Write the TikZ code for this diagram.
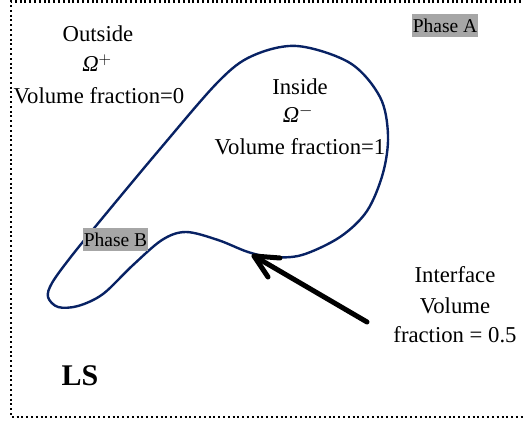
\documentclass[tikz,border=0pt]{standalone}
\usepackage{fontspec}
\setmainfont{Liberation Serif}
\begin{document}
\begin{tikzpicture}[x=1pt,y=-1pt,
  lbl/.style={anchor=base,inner sep=0pt,font=\fontsize{22.7}{27}\selectfont},
  phase/.style={fill=phasegray,inner xsep=1pt,inner ysep=0pt,minimum height=23pt,font=\fontsize{19.5}{23}\selectfont},
  lsline/.style={navy,line width=2.4pt},
  arrowline/.style={black,line width=5pt,line cap=round,line join=round},
  frame/.style={line width=2.6pt,dash pattern=on 2pt off 2.8pt}]
\definecolor{navy}{RGB}{8,34,100}
\definecolor{phasegray}{RGB}{166,166,166}
\useasboundingbox (0,0) rectangle (523,425);
% dotted frame (right edge lies outside the picture)
\draw[frame] (540,1.3) -- (11,1.3) -- (11,417) -- (540,417);
% interface curve
\draw[lsline] plot[smooth cycle,tension=0.55] coordinates{
 (297,46) (350,63) (380,97) (388,135) (383,173) (367,211) (340,237) (302,255)
 (272,257) (248,252) (218,240) (186,232) (162,240) (132,266) (103,294)
 (78,306) (58,307) (48,297) (52,283) (70,258) (100,221) (160,149) (218,82) (252,56)};
% labels
\node[lbl] (out1) at (98,42) {Outside};
\node[lbl] (out2) at (97,72) {\textit{Ω}$^{+}$};
\node[lbl] (out3) at (99,104) {Volume fraction=0};
\node[lbl] (in1) at (300,95) {Inside};
\node[lbl] (in2) at (298,123) {\textit{Ω}$^{-}$};
\node[lbl] (in3) at (300,155) {Volume fraction=1};
\node[lbl] (if1) at (455,283) {Interface};
\node[lbl] (if2) at (455,313) {Volume};
\node[lbl] (if3) at (455,343) {fraction = 0.5};
\node[lbl,font=\fontsize{30}{34}\bfseries] (ls) at (80,385) {LS};
\node[phase] (pa) at (445,25.5) {Phase A};
\node[phase] (pb) at (115.5,240) {Phase B};
% arrow to the interface
\coordinate (tail) at (367,322);
\coordinate (tip) at (254,256);
\coordinate (barbA) at (268,277);
\coordinate (barbB) at (280,258);
\draw[arrowline] (tail) -- (tip);
\draw[arrowline] (barbA) -- (tip) -- (barbB);
\end{tikzpicture}
\end{document}
